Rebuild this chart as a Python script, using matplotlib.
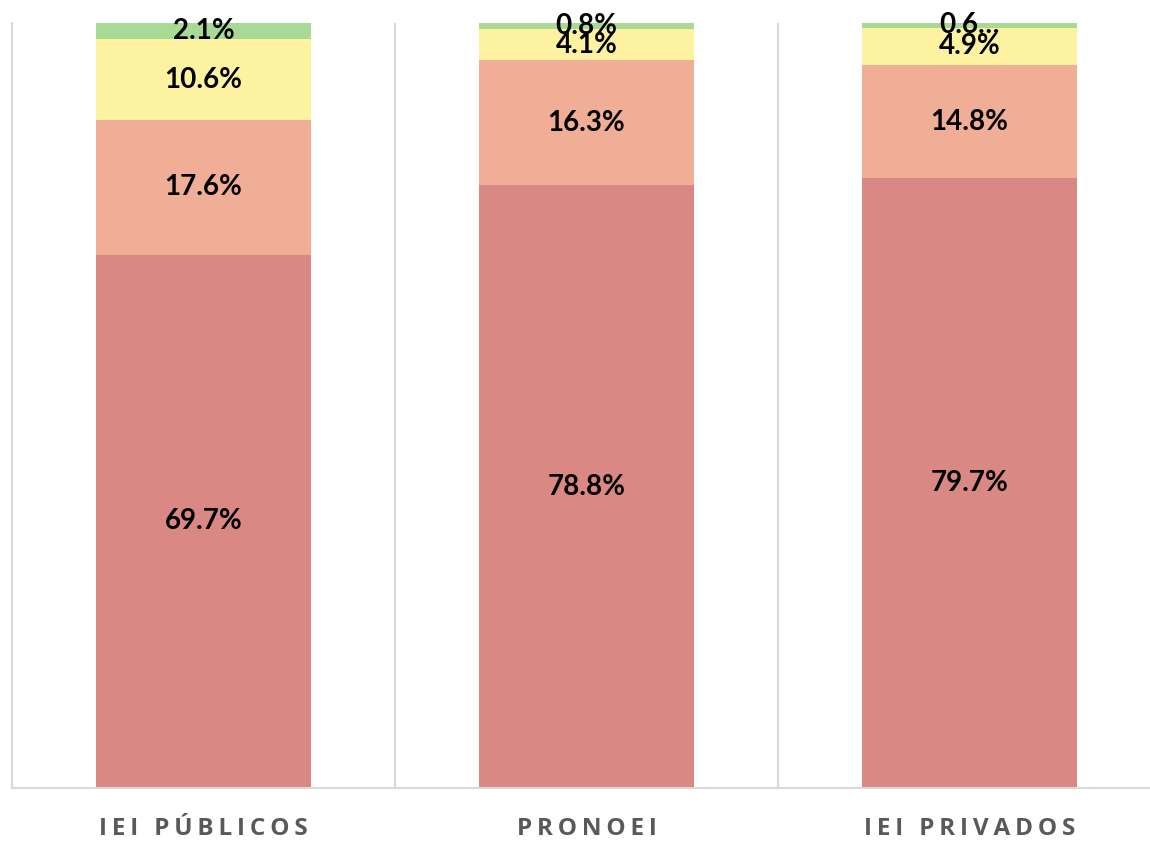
import matplotlib.pyplot as plt
import matplotlib.transforms as mtransforms
import numpy as np

categories = ["IEI PÚBLICOS", "PRONOEI", "IEI PRIVADOS"]
# stacked shares (%), bottom to top
seg1 = [69.7, 78.8, 79.7]
seg2 = [17.6, 16.3, 14.8]
seg3 = [10.6, 4.1, 4.9]
seg4 = [2.1, 0.8, 0.6]
seg4_text = ["2.1%", "0.8%", "0.6…"]

colors = ["#DA8884", "#EFAE95", "#FDF29F", "#A9DA95"]

W, H = 1150, 842
fig = plt.figure(figsize=(W / 100, H / 100), dpi=100)
ax = fig.add_axes([12 / W, (H - 788) / H, 1149 / W, 765 / H])

x = np.arange(len(categories))
series = [seg1, seg2, seg3, seg4]
bottom = np.zeros(len(categories))
for i, vals in enumerate(series):
    vals = np.array(vals)
    ax.bar(x, vals, 0.56, bottom=bottom, color=colors[i], zorder=2)
    for j, v in enumerate(vals):
        txt = seg4_text[j] if i == 3 else f"{v:.1f}%"
        yc = bottom[j] + v / 2
        ax.text(x[j], yc, txt, ha="center", va="center",
                fontsize=20, fontweight="bold", family="Lato", color="black", zorder=3)
    bottom += vals

ax.set_xlim(-0.5, 2.5)
ax.set_ylim(0, 100)
ax.set_yticks([])
ax.set_xticks([])

# spaced-out category labels (thin spaces between letters)
trans = mtransforms.blended_transform_factory(ax.transData, ax.transAxes)
for xi, cat in zip(x, categories):
    ax.text(xi, -41 / 765, "\u2009".join(cat), transform=trans, ha="center", va="center",
            fontsize=17.5, fontweight="bold", family=["Open Sans", "DejaVu Sans"],
            color="#595959", clip_on=False)

for b in [0.5, 1.5]:
    ax.axvline(b, color="#D9D9D9", lw=1.5, zorder=1)
for s in ["top", "right"]:
    ax.spines[s].set_visible(False)
ax.spines["left"].set_color("#D9D9D9")
ax.spines["left"].set_linewidth(1.5)
ax.spines["bottom"].set_color("#D9D9D9")
ax.spines["bottom"].set_linewidth(1.5)

fig.savefig("out.png", dpi=100)
